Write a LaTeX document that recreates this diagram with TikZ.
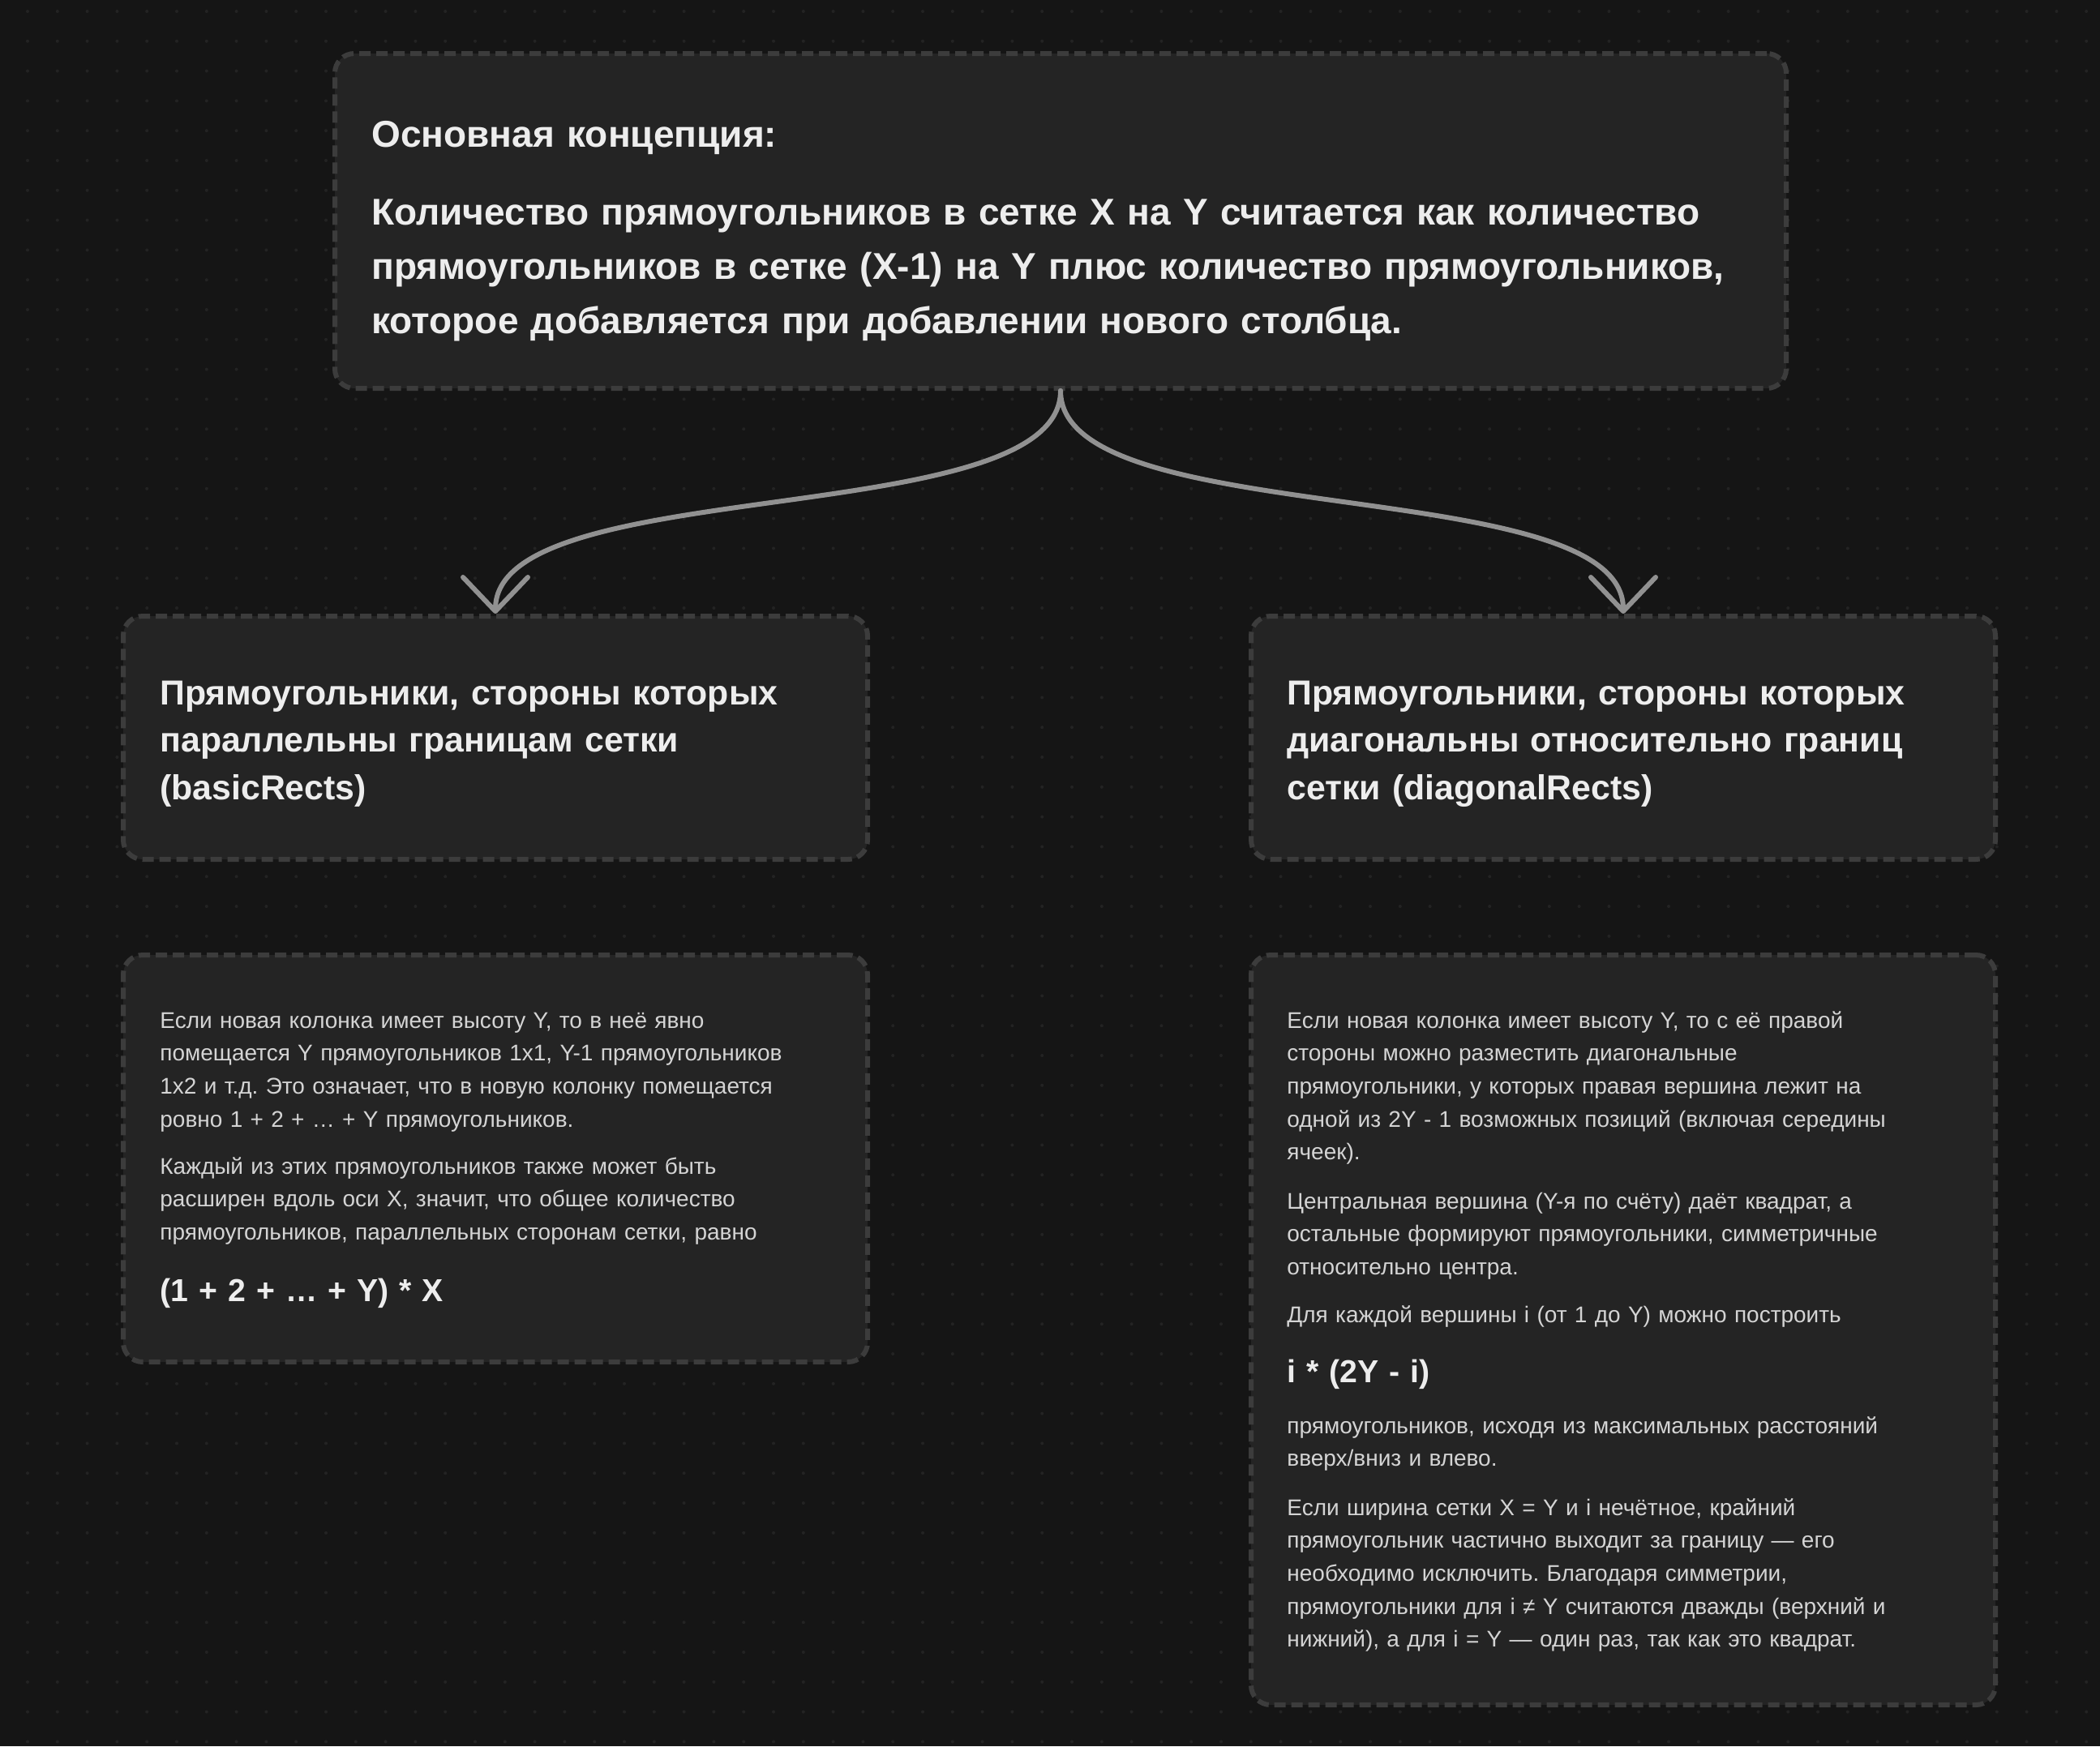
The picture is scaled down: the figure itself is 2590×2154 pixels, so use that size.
\documentclass[tikz,border=0pt]{standalone}
\usepackage{fontspec}
\setmainfont{Liberation Sans}
\usepackage{tikz}
\usetikzlibrary{arrows.meta, positioning}
\definecolor{canvas}{HTML}{151515}
\definecolor{dotc}{HTML}{232323}
\definecolor{cardfill}{HTML}{242424}
\definecolor{cardline}{HTML}{3C3C3C}
\definecolor{linkc}{HTML}{919191}
\definecolor{head}{HTML}{EDEDED}
\definecolor{body}{HTML}{D4D4D4}
\frenchspacing

\begin{document}
\begin{tikzpicture}[
    x=0.5pt, y=-0.5pt,
    card/.style={rectangle, draw=cardline, fill=cardfill, line width=3pt,
                 rounded corners=12pt, dash pattern=on 7pt off 3.5pt, inner sep=0pt},
    wide/.style={card, minimum width=895pt, minimum height=206.5pt},
    half/.style={card, minimum width=459pt},
    txt/.style={anchor=base west, inner sep=0pt, text width=880pt, align=left},
    bigtxt/.style={txt, text=head, font=\fontsize{23}{33.5}\selectfont\bfseries},
    midtxt/.style={txt, text=head, font=\fontsize{21.4}{29.25}\selectfont\bfseries},
    smalltxt/.style={txt, text=body, font=\fontsize{14}{20.35}\selectfont},
    formula/.style={txt, text=head, font=\fontsize{19.6}{24}\selectfont\bfseries},
    link/.style={draw=linkc, line width=3pt, line cap=round,
                 -{Straight Barb[length=21pt, width=40pt, round]}}
  ]
    \useasboundingbox (0,0) rectangle (2590,2154);
    \fill[canvas] (0,0) rectangle (2590,2154);
    % dotted canvas, one row at a time
    \foreach \j in {0,...,58} {
      \fill[dotc] \foreach \i in {0,...,69} {(34+36.8*\i, 14+36.8*\j) circle (1pt)};
    }

    \node[wide] (concept) at (1308,272.5) {};
    \node[half, minimum height=150pt] (basic) at (611,910) {};
    \node[half, minimum height=150pt] (diag) at (2002,910) {};
    \node[half, minimum height=251pt] (basicnote) at (611,1429) {};
    \node[half, minimum height=462.5pt] (diagnote) at (2002,1640.5) {};

    % top card
    \node[bigtxt] (title) at (458,181) {Основная концепция:};
    \node[bigtxt] (idea) at (458,277) {Количество прямоугольников в сетке X на Y считается как количество\\
      прямоугольников в сетке (X-1) на Y плюс количество прямоугольников,\\
      которое добавляется при добавлении нового столбца.};

    % branch cards
    \node[midtxt] (basiclabel) at (197,869) {Прямоугольники, стороны которых\\
      параллельны границам сетки\\(basicRects)};
    \node[midtxt] (diaglabel) at (1587,869) {Прямоугольники, стороны которых\\
      диагональны относительно границ\\сетки (diagonalRects)};

    % left note
    \node[smalltxt] (bn1) at (197,1268) {Если новая колонка имеет высоту Y, то в неё явно\\
      помещается Y прямоугольников 1x1, Y-1 прямоугольников\\
      1x2 и т.д. Это означает, что в новую колонку помещается\\
      ровно 1 + 2 + … + Y прямоугольников.};
    \node[smalltxt] (bn2) at (197,1448) {Каждый из этих прямоугольников также может быть\\
      расширен вдоль оси X, значит, что общее количество\\
      прямоугольников, параллельных сторонам сетки, равно};
    \node[formula] (bsum) at (197,1605) {(1 + 2 + … + Y) * X};

    % right note
    \node[smalltxt] (dn1) at (1587,1268) {Если новая колонка имеет высоту Y, то с её правой\\
      стороны можно разместить диагональные\\
      прямоугольники, у которых правая вершина лежит на\\
      одной из 2Y - 1 возможных позиций (включая середины\\
      ячеек).};
    \node[smalltxt] (dn2) at (1587,1491) {Центральная вершина (Y-я по счёту) даёт квадрат, а\\
      остальные формируют прямоугольники, симметричные\\
      относительно центра.};
    \node[smalltxt] (dn3) at (1587,1631) {Для каждой вершины i (от 1 до Y) можно построить};
    \node[formula] (dsum) at (1587,1705) {i * (2Y - i)};
    \node[smalltxt] (dn4) at (1587,1768) {прямоугольников, исходя из максимальных расстояний\\
      вверх/вниз и влево.};
    \node[smalltxt] (dn5) at (1587,1869) {Если ширина сетки X = Y и i нечётное, крайний\\
      прямоугольник частично выходит за границу — его\\
      необходимо исключить. Благодаря симметрии,\\
      прямоугольники для i ≠ Y считаются дважды (верхний и\\
      нижний), а для i = Y — один раз, так как это квадрат.};

    \draw[link] (concept.south) .. controls +(0,175) and +(0,-175) .. (basic.north);
    \draw[link] (concept.south) .. controls +(0,175) and +(0,-175) .. (diag.north);
\end{tikzpicture}
\end{document}
